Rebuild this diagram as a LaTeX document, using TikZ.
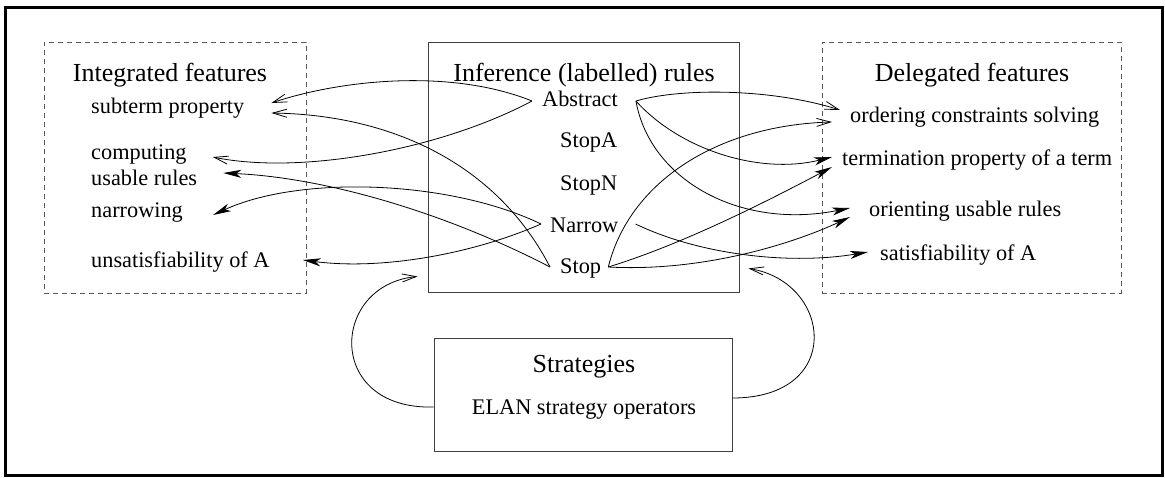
\documentclass[tikz,border=0pt]{standalone}
\usepackage{fontspec}
\setmainfont{Liberation Serif}
\usetikzlibrary{arrows.meta}
\begin{document}
\begin{tikzpicture}[x=1pt,y=-1pt,
  txt/.style={inner sep=0pt,anchor=west,font=\fontsize{22.3}{24}\selectfont},
  ttl/.style={inner sep=0pt,font=\fontsize{26}{28}\selectfont},
  box/.style={draw=black!75,line width=0.9pt,inner sep=0pt},
  dbox/.style={draw=black!65,line width=0.9pt,dash pattern=on 5pt off 4pt,inner sep=0pt},
  conn/.style={line width=0.8pt},
  oarr/.style={conn,-{Straight Barb[length=14pt,width=8pt]}},
  farr/.style={conn,-{Stealth[length=18pt,width=8pt,inset=5pt]}}]
\useasboundingbox (0,0) rectangle (1165,477);
\draw[line width=3pt] (5,7) rectangle (1162,475);

% boxes
\node[dbox,minimum width=262pt,minimum height=251pt] (lbox) at (175,167.5) {};
\node[box,minimum width=311pt,minimum height=250pt] (cbox) at (583.5,167) {};
\node[dbox,minimum width=299pt,minimum height=251pt] (rbox) at (971.5,167.5) {};
\node[box,minimum width=298pt,minimum height=113pt] (sbox) at (583,394.5) {};

% titles
\node[ttl] (ltitle) at (170,75) {Integrated features};
\node[ttl] (ctitle) at (584,75) {Inference (labelled) rules};
\node[ttl] (rtitle) at (972,75) {Delegated features};
\node[ttl] (stitle) at (584,367) {Strategies};
\node[txt,anchor=center] (elan) at (584,410) {ELAN strategy operators};

% left items
\node[txt] (sub) at (91,108) {subterm property};
\node[txt] (comp) at (91,155) {computing};
\node[txt] (usable) at (91,178) {usable rules};
\node[txt] (narrowing) at (91,213) {narrowing};
\node[txt] (unsat) at (91,262) {unsatisfiability of A};

% rules
\node[txt] (abs) at (542,99) {Abstract};
\node[txt] (stopa) at (560,142) {StopA};
\node[txt] (stopn) at (560,185) {StopN};
\node[txt] (narrow) at (550,225) {Narrow};
\node[txt] (stop) at (560,268) {Stop};

% right items
\node[txt] (ord) at (850,117) {ordering constraints solving};
\node[txt] (term) at (842,160) {termination property of a term};
\node[txt] (orient) at (869,211) {orienting usable rules};
\node[txt] (satis) at (880,255) {satisfiability of A};

% left connectors
\draw[oarr] ([xshift=-10pt,yshift=-2pt]abs.west) .. controls (450,68) and (340,80) .. ([xshift=27pt,yshift=5pt]sub.east);
\draw[oarr] ([xshift=-10pt,yshift=-2pt]abs.west) .. controls (440,150) and (300,175) .. ([xshift=26pt,yshift=-2pt]comp.east);
\draw[oarr] ([xshift=-10pt,yshift=1pt]stop.west) .. controls (500,170) and (400,115) .. ([xshift=27pt,yshift=-5pt]sub.east);
\draw[farr] ([xshift=-10pt,yshift=1pt]stop.west) .. controls (450,215) and (330,178) .. ([xshift=26pt,yshift=5pt]usable.east);
\draw[farr] ([xshift=-9pt,yshift=1pt]narrow.west) .. controls (450,180) and (300,175) .. ([xshift=30pt,yshift=-2pt]narrowing.east);
\draw[farr] ([xshift=-9pt,yshift=1pt]narrow.west) .. controls (470,255) and (380,270) .. ([xshift=33pt,yshift=2pt]unsat.east);

% right connectors
\draw[oarr] ([xshift=18pt,yshift=-2pt]abs.east) .. controls (680,88) and (770,88) .. ([xshift=-10pt,yshift=7pt]ord.west);
\draw[farr] ([xshift=18pt,yshift=-2pt]abs.east) .. controls (680,150) and (760,175) .. ([xshift=-10pt,yshift=3pt]term.west);
\draw[farr] ([xshift=18pt,yshift=-2pt]abs.east) .. controls (650,180) and (740,230) .. ([xshift=-19pt,yshift=3pt]orient.west);
\draw[oarr] ([xshift=7pt,yshift=1pt]stop.east) .. controls (630,180) and (720,125) .. ([xshift=-18pt,yshift=-5pt]ord.west);
\draw[farr] ([xshift=7pt,yshift=1pt]stop.east) .. controls (680,245) and (760,205) .. ([xshift=-10pt,yshift=-7pt]term.west);
\draw[farr] ([xshift=7pt,yshift=1pt]stop.east) .. controls (700,272) and (790,245) .. ([xshift=-19pt,yshift=-6pt]orient.west);
\draw[farr] ([xshift=17pt,yshift=1pt]narrow.east) .. controls (700,255) and (790,265) .. ([xshift=-12pt,yshift=3pt]satis.west);

% strategy loops
\draw[oarr] ([yshift=-12.5pt]sbox.west) .. controls (325,410) and (330,285) .. ([xshift=-10pt,yshift=16pt]cbox.south west);
\draw[oarr] ([yshift=-3.5pt]sbox.east) .. controls (845,398) and (832,282) .. ([xshift=9pt,yshift=24pt]cbox.south east);
\end{tikzpicture}
\end{document}
